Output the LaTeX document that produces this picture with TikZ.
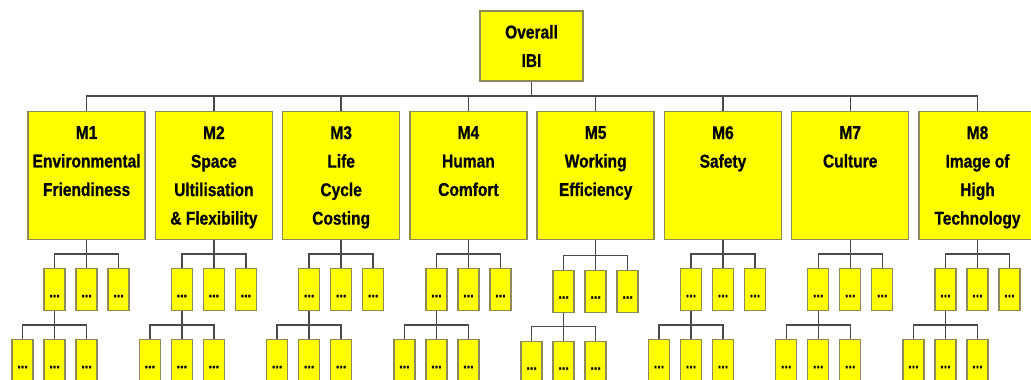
\documentclass[tikz,border=0pt]{standalone}
\usepackage{fontspec}
\newfontfamily\nf[FakeStretch=0.84,FakeBold=0.8]{Liberation Sans}
\definecolor{boxfill}{HTML}{FFFF00}
\definecolor{boxline}{HTML}{8C8A55}
\definecolor{conn}{HTML}{4A4A4A}
\tikzset{
  box/.style={draw=boxline, fill=boxfill, line width=1.4pt, inner sep=0pt},
  mbox/.style={box, minimum width=117pt, minimum height=128pt, anchor=north},
  sbox/.style={box, minimum width=21pt, minimum height=42pt, anchor=north,
    text height=15pt, text depth=0pt, font=\nf\bfseries\fontsize{15}{18}\selectfont},
  mtxt/.style={align=center, inner sep=0pt, anchor=north,
    font=\nf\bfseries\fontsize{18.5}{28.5}\selectfont},
  link/.style={draw=conn, line width=1.4pt},
}
\begin{document}
\begin{tikzpicture}[x=1pt,y=-1pt]
\useasboundingbox (0,0) rectangle (1031,380);
\clip (0,0) rectangle (1031,380);
\node[box, minimum width=103pt, minimum height=70pt, align=center,
  font=\nf\bfseries\fontsize{18.5}{28.5}\selectfont] (top) at (531.5,46) {Overall\\IBI};
\coordinate (tb) at (531.5,96);
\draw[link] (top.south) -- (tb);
\foreach \t [count=\k] in {{M1\\Environmental\\Friendiness},{M2\\Space\\Ultilisation\\\& Flexibility},{M3\\Life\\Cycle\\Costing},{M4\\Human\\Comfort},{M5\\Working\\Efficiency},{M6\\Safety},{M7\\Culture},{M8\\Image of\\High\\Technology}}{
  \pgfmathsetmacro\cx{86.6+127.27*(\k-1)}
  \pgfmathsetmacro\dy{\k==5 ? 1.5 : 0}
  \node[mbox, label={[mtxt, yshift=-15pt]north:{\t}}] (M\k) at (\cx,111) {};
  \draw[link] (tb) -| (M\k.north);
  \coordinate (b\k) at (\cx,254+\dy);
  \draw[link] (M\k.south) -- (b\k);
  \foreach \j in {1,2,3}{
    \node[sbox] (S\k-\j) at (\cx+32*\j-64, 268+\dy) {...};
    \draw[link] (b\k) -| (S\k-\j.north);
  }
  \coordinate (c\k) at (\cx-32, 325+\dy);
  \draw[link] (S\k-1.south) -- (c\k);
  \foreach \j in {1,2,3}{
    \node[sbox] (T\k-\j) at (\cx+32*\j-96, 339+\dy) {...};
    \draw[link] (c\k) -| (T\k-\j.north);
  }
}
\end{tikzpicture}
\end{document}
